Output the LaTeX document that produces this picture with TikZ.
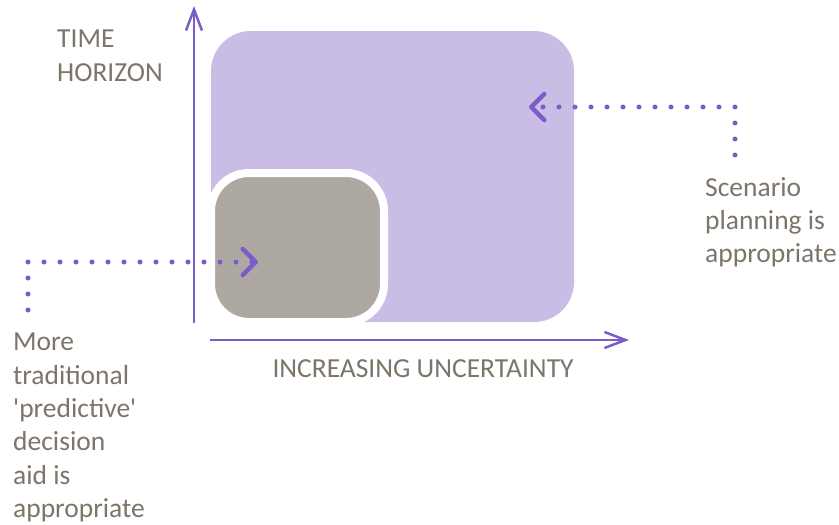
\documentclass[tikz,border=0pt]{standalone}
\usepackage{fontspec}
\setmainfont{Carlito}
\usepackage{xcolor}
\definecolor{cLine}{HTML}{7B5CC9}
\definecolor{cScen}{HTML}{C9BDE5}
\definecolor{cPred}{HTML}{ADA8A1}
\definecolor{cText}{HTML}{7D746A}
\usetikzlibrary{positioning,arrows.meta}
\tikzset{
  box-scen/.style={fill=cScen,rounded corners=40pt,minimum width=363pt,
    minimum height=291pt,inner sep=0pt},
  box-pred/.style={fill=cPred,draw=white,line width=8pt,rounded corners=38pt,
    minimum width=173pt,minimum height=149pt,inner sep=0pt},
  txt/.style={text=cText,font=\fontsize{27.5}{33.3}\selectfont,inner sep=0pt,align=left},
  axis/.style={-{Straight Barb[length=21pt,width=16pt,line width=2.5pt]},
    line width=2.5pt,draw=cLine},
  link-dot/.style={-{Straight Barb[length=13pt,width=26pt,line width=4.5pt,round]},
    draw=cLine,line width=5pt,line cap=round,dash pattern=on 0pt off 16pt},
}
\begin{document}
\begin{tikzpicture}[x=1pt,y=-1pt]
  \useasboundingbox (0,0) rectangle (839,525);
  % boxes
  \node[box-scen] (scen-box) at (392.5,176.5) {};
  \node[box-pred] (pred-box) at (297.5,247.5) {};
  % axes
  \coordinate (y-start) at (194,323);
  \coordinate (y-end)   at (194,6);
  \coordinate (x-start) at (210,340);
  \coordinate (x-end)   at (629,340);
  \draw[axis] (y-start) -- (y-end);
  \draw[axis] (x-start) -- (x-end);
  % labels
  \node[txt,anchor=north west] (time) at (57,30) {TIME\\HORIZON};
  \node[txt,anchor=north] (unc) at (423,359) {INCREASING UNCERTAINTY};
  \node[txt,anchor=north west] (pred-txt) at (13,333) {More\\traditional\\\textquotesingle predictive\textquotesingle\\decision\\aid is\\appropriate};
  \node[txt,anchor=north west] (scen-txt) at (705,177) {Scenario\\planning is\\appropriate};
  % pointers
  \coordinate (pred-start) at (28,310);
  \coordinate (pred-in)    at (258,262);
  \coordinate (scen-start) at (735,155);
  \coordinate (scen-in)    at (529,107);
  \draw[link-dot] (pred-start) |- (pred-in);
  \draw[link-dot] (scen-start) |- (scen-in);
\end{tikzpicture}
\end{document}
